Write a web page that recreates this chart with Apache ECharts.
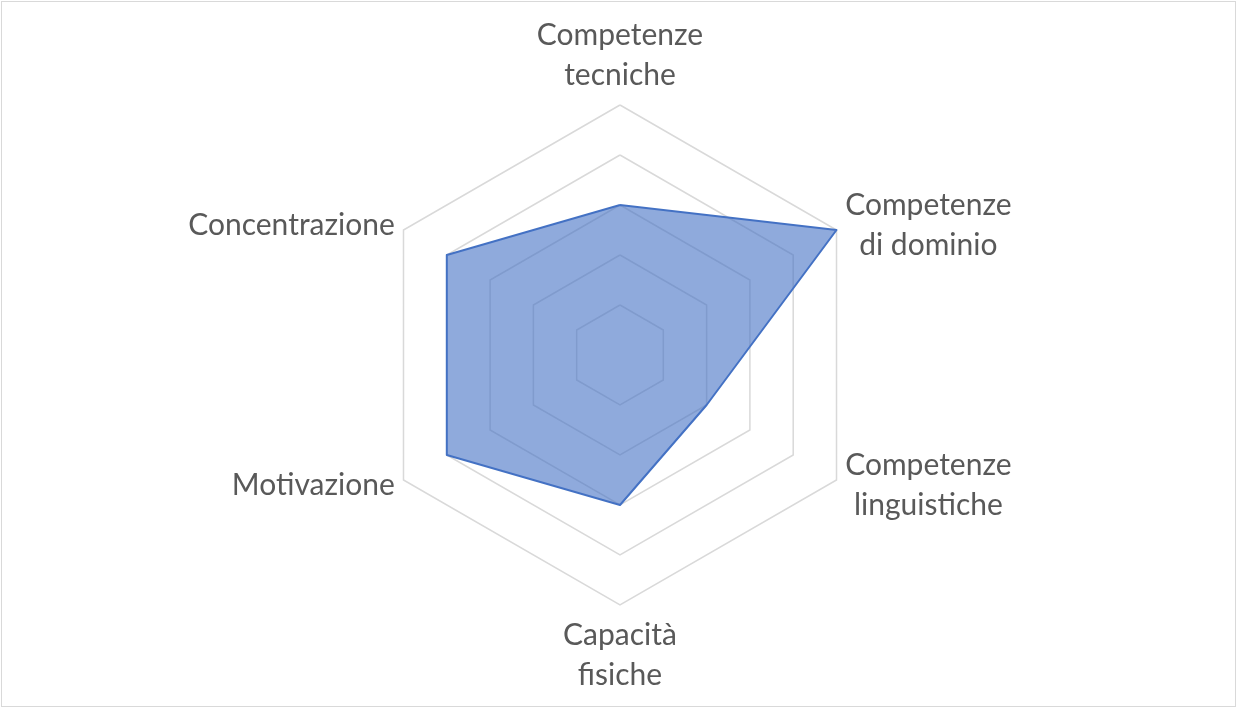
<!DOCTYPE html>
<html>
<head>
<meta charset="utf-8">
<script src="https://cdn.jsdelivr.net/npm/echarts@6/dist/echarts.min.js"></script>
<style>
html,body{margin:0;padding:0;background:#fff;}
#frame{position:absolute;left:1px;top:1px;width:1233px;height:704px;border:1px solid #D9D9D9;}
#chart{position:absolute;left:0;top:0;width:1237px;height:708px;}
</style>
</head>
<body>
<div id="frame"></div>
<div id="chart"></div>
<script>
// Order listed counter-clockwise from the top (ECharts radar direction)
const categories = ['Competenze\ntecniche', 'Concentrazione', 'Motivazione', 'Capacità\nfisiche', 'Competenze\nlinguistiche', 'Competenze\ndi dominio'];
const values = [3, 4, 4, 3, 2, 5];
const maxValue = 5;

const chart = echarts.init(document.getElementById('chart'), null, {renderer: 'canvas'});
chart.setOption({
  animation: false,
  radar: {
    center: [620, 355],
    radius: 250,
    startAngle: 90,
    shape: 'polygon',
    splitNumber: 5,
    indicator: categories.map(n => ({name: n, max: maxValue, min: 0})),
    axisName: {
      color: '#595959',
      fontFamily: 'Lato',
      fontSize: 30,
      lineHeight: 40,
      formatter: function (name) {
        return name.split('\n').map(s => '{a|' + s + '}').join('\n');
      },
      rich: {a: {align: 'center', color: '#595959', fontFamily: 'Lato', fontSize: 30, lineHeight: 40}}
    },
    nameGap: 10,
    splitLine: {lineStyle: {color: '#D9D9D9', width: 1.5}},
    splitArea: {show: false},
    axisLine: {show: false},
    axisTick: {show: false},
    axisLabel: {show: false}
  },
  series: [{
    type: 'radar',
    symbol: 'none',
    data: [{value: values}],
    lineStyle: {color: '#4472C4', width: 2},
    areaStyle: {color: '#4472C4', opacity: 0.6}
  }]
});
</script>
</body>
</html>
